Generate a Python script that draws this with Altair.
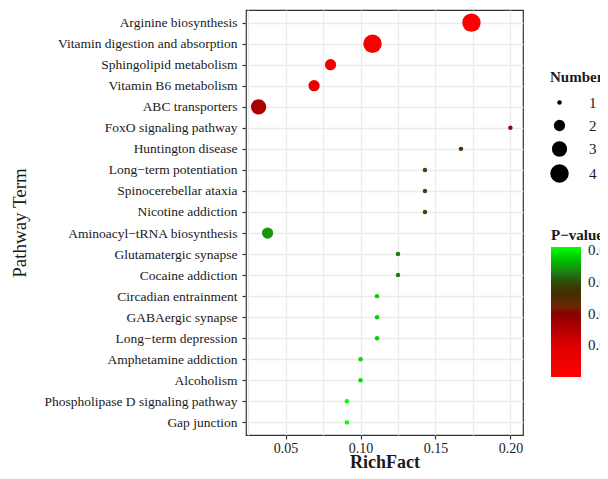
import altair as alt
import pandas as pd

pathways = [
    "Arginine biosynthesis",
    "Vitamin digestion and absorption",
    "Sphingolipid metabolism",
    "Vitamin B6 metabolism",
    "ABC transporters",
    "FoxO signaling pathway",
    "Huntington disease",
    "Long\u2212term potentiation",
    "Spinocerebellar ataxia",
    "Nicotine addiction",
    "Aminoacyl\u2212tRNA biosynthesis",
    "Glutamatergic synapse",
    "Cocaine addiction",
    "Circadian entrainment",
    "GABAergic synapse",
    "Long\u2212term depression",
    "Amphetamine addiction",
    "Alcoholism",
    "Phospholipase D signaling pathway",
    "Gap junction",
]
rich_factor = [0.174, 0.108, 0.080, 0.069, 0.032, 0.200, 0.167, 0.143, 0.143, 0.143,
               0.038, 0.125, 0.125, 0.111, 0.111, 0.111, 0.100, 0.100, 0.0909, 0.0909]
numbers = [4, 4, 2, 2, 3, 1, 1, 1, 1, 1, 2, 1, 1, 1, 1, 1, 1, 1, 1, 1]
pvalues = [0.0005, 0.001, 0.004, 0.007, 0.016, 0.017, 0.025, 0.030, 0.030, 0.030,
           0.0345, 0.033, 0.033, 0.038, 0.038, 0.038, 0.039, 0.039, 0.041, 0.041]

color_domain = [0, 0.01, 0.02, 0.027, 0.031, 0.036, 0.041]
color_range = ["#ff0000", "#dd0000", "#8b0000", "#3a2e00", "#1f5a14", "#00b400", "#00ff00"]
x_ticks = [0.025, 0.05, 0.075, 0.10, 0.125, 0.15, 0.175, 0.20]

df = pd.DataFrame({"Pathway": pathways, "RichFact": rich_factor,
                   "Number": numbers, "Pvalue": pvalues})

FONT = "Liberation Serif"

chart = alt.Chart(df).mark_circle(opacity=1).encode(
    x=alt.X("RichFact:Q",
            scale=alt.Scale(domain=[0.0236, 0.2084], nice=False, zero=False),
            axis=alt.Axis(values=x_ticks, title="RichFact", grid=True, gridWidth=1.3,
                          labelExpr="round(datum.value*40) % 2 == 0 ? format(datum.value, '.2f') : ''",
                          tickOpacity={"condition": {"test": "round(datum.value*40) % 2 == 0", "value": 1}, "value": 0},
                          titleFontWeight="bold", titleFontSize=18,
                          titleBaseline="alphabetic", titleY=32,
                          labelFontSize=14, labelPadding=2)),
    y=alt.Y("Pathway:N", sort=pathways,
            scale=alt.Scale(type="point", padding=0.6),
            axis=alt.Axis(title="Pathway Term", titleFontSize=19, titleFontWeight="normal",
                          grid=True, gridWidth=1.3, labelLimit=400,
                          labelFontSize=13.5, labelPadding=5, titlePadding=17)),
    size=alt.Size("Number:Q",
                  scale=alt.Scale(domain=[1, 4], range=[20, 340]),
                  legend=alt.Legend(values=[1, 2, 3, 4], format="d", title="Number", orient="none",
                                    legendX=304, legendY=60, symbolFillColor="black",
                                    symbolStrokeWidth=0, labelFontSize=15, titleFontSize=15,
                                    titleFontWeight="bold", rowPadding=7, labelOffset=20,
                                    titlePadding=10)),
    color=alt.Color("Pvalue:Q",
                    scale=alt.Scale(domain=color_domain, range=color_range),
                    legend=alt.Legend(title="P\u2212value", orient="none", legendX=305,
                                      legendY=218, gradientLength=130, gradientThickness=30,
                                      values=[0.01, 0.02, 0.03, 0.04], format=".2f",
                                      labelFontSize=15, titleFontSize=15, titleFontWeight="bold",
                                      gradientStrokeWidth=0, labelOffset=7, titlePadding=4)),
).properties(
    width=277, height=425,
    autosize=alt.AutoSizeParams(type="none"),
    padding={"left": 238, "top": 2, "right": 77, "bottom": 36},
).configure(
    font=FONT,
).configure_view(
    stroke="#333333", strokeWidth=1.2,
).configure_axis(
    labelFont=FONT, titleFont=FONT, labelColor="#1a1a1a", titleColor="#1a1a1a",
    gridColor="#ebebeb", domain=False, tickColor="#333333", tickSize=4, tickWidth=1.2,
).configure_legend(
    labelFont=FONT, titleFont=FONT, labelColor="#1a1a1a", titleColor="#1a1a1a",
)

chart.save("out.html", embed_options={"renderer": "svg", "actions": False})
